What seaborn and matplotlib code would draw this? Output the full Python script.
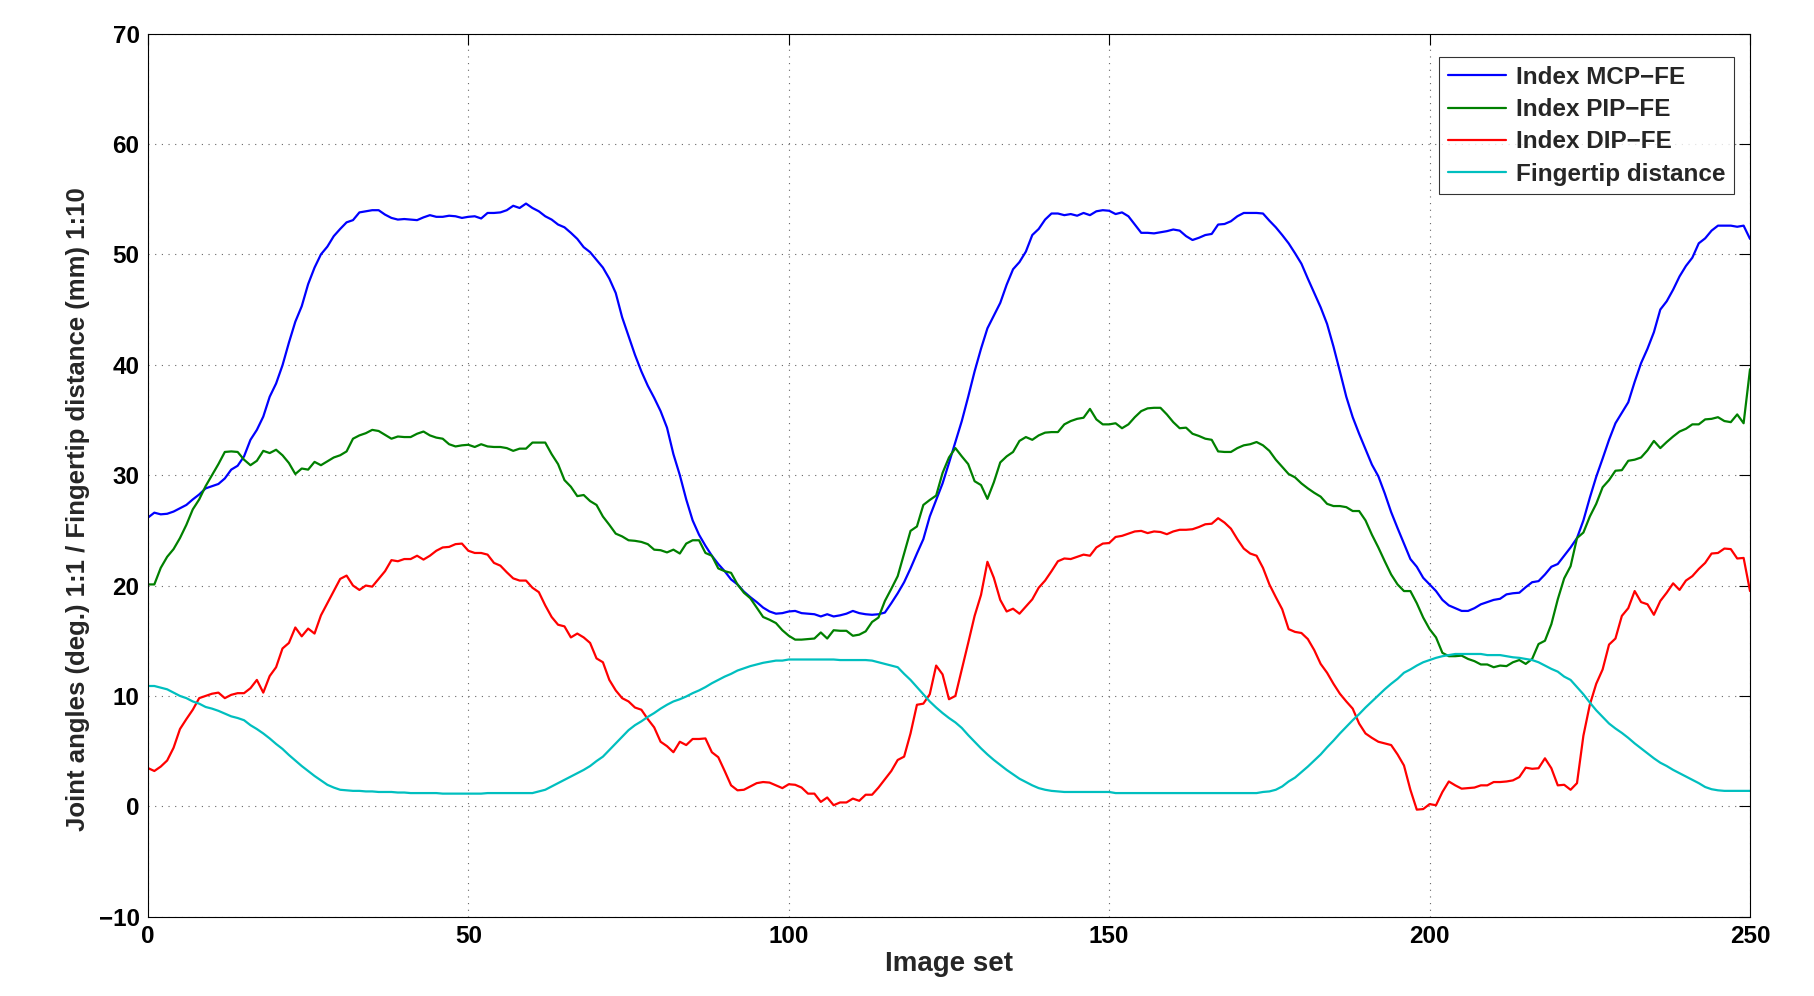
import numpy as np
import pandas as pd
import matplotlib
matplotlib.use("Agg")
import matplotlib.pyplot as plt
import seaborn as sns

# values, one per image set (0..250)
image_set = list(range(251))

mcp_fe = [
    26.15, 26.6, 26.45, 26.5, 26.7, 27.0, 27.3, 27.8, 28.25, 28.8,
    29.0, 29.2, 29.7, 30.5, 30.85, 31.7, 33.2, 34.1, 35.3, 37.1,
    38.3, 39.95, 42.0, 43.9, 45.3, 47.3, 48.8, 50.0, 50.7, 51.65,
    52.3, 52.9, 53.1, 53.8, 53.9, 54.0, 54.0, 53.6, 53.3, 53.15,
    53.2, 53.15, 53.1, 53.35, 53.55, 53.4, 53.4, 53.5, 53.45, 53.3,
    53.4, 53.45, 53.25, 53.75, 53.75, 53.8, 54.0, 54.4, 54.2, 54.6,
    54.2, 53.9, 53.45, 53.15, 52.7, 52.45, 51.95, 51.4, 50.65, 50.2,
    49.5, 48.8, 47.8, 46.5, 44.3, 42.6, 40.9, 39.4, 38.1, 37.0,
    35.8, 34.3, 31.9, 30.0, 27.8, 25.9, 24.6, 23.6, 22.7, 21.95,
    21.3, 20.55, 20.1, 19.45, 18.95, 18.5, 18.0, 17.65, 17.45, 17.5,
    17.65, 17.7, 17.5, 17.45, 17.4, 17.2, 17.4, 17.2, 17.3, 17.45,
    17.7, 17.5, 17.4, 17.35, 17.4, 17.55, 18.4, 19.3, 20.3, 21.55,
    22.9, 24.2, 26.25, 27.75, 29.25, 31.1, 33.0, 34.9, 37.1, 39.4,
    41.45, 43.3, 44.45, 45.6, 47.25, 48.65, 49.3, 50.25, 51.75, 52.3,
    53.15, 53.7, 53.7, 53.55, 53.65, 53.5, 53.75, 53.55, 53.9, 54.0,
    53.95, 53.65, 53.8, 53.45, 52.7, 51.95, 51.95, 51.9, 52.0, 52.1,
    52.25, 52.15, 51.65, 51.3, 51.5, 51.75, 51.85, 52.7, 52.75, 53.0,
    53.45, 53.75, 53.75, 53.75, 53.7, 53.05, 52.45, 51.75, 51.0, 50.1,
    49.15, 47.8, 46.5, 45.2, 43.7, 41.65, 39.4, 37.1, 35.25, 33.75,
    32.35, 30.95, 29.9, 28.35, 26.65, 25.2, 23.8, 22.4, 21.7, 20.7,
    20.1, 19.5, 18.7, 18.2, 17.95, 17.7, 17.7, 17.95, 18.3, 18.5,
    18.7, 18.8, 19.2, 19.3, 19.35, 19.85, 20.3, 20.4, 21.0, 21.7,
    21.95, 22.7, 23.45, 24.3, 25.9, 27.95, 29.85, 31.5, 33.2, 34.7,
    35.65, 36.6, 38.45, 40.15, 41.45, 42.95, 45.0, 45.75, 46.8, 48.0,
    48.95, 49.7, 51.0, 51.45, 52.15, 52.6, 52.6, 52.6, 52.5, 52.6,
    51.4,
]

pip_fe = [
    20.1, 20.1, 21.6, 22.6, 23.3, 24.3, 25.5, 26.9, 27.8, 29.0,
    30.0, 31.0, 32.1, 32.15, 32.1, 31.4, 30.9, 31.3, 32.2, 32.0,
    32.3, 31.8, 31.1, 30.1, 30.6, 30.5, 31.2, 30.9, 31.25, 31.6,
    31.8, 32.15, 33.3, 33.6, 33.8, 34.1, 34.0, 33.65, 33.3, 33.5,
    33.45, 33.45, 33.75, 33.95, 33.6, 33.4, 33.3, 32.8, 32.6, 32.7,
    32.75, 32.55, 32.8, 32.6, 32.55, 32.55, 32.45, 32.2, 32.4, 32.4,
    32.95, 32.95, 32.95, 31.9, 31.0, 29.55, 28.95, 28.1, 28.2, 27.65,
    27.3, 26.25, 25.5, 24.7, 24.45, 24.1, 24.05, 23.95, 23.75, 23.25,
    23.2, 23.0, 23.25, 22.9, 23.8, 24.1, 24.1, 22.95, 22.7, 21.55,
    21.3, 21.15, 20.1, 19.35, 18.85, 18.0, 17.15, 16.9, 16.6, 15.95,
    15.45, 15.1, 15.1, 15.15, 15.2, 15.75, 15.2, 15.95, 15.9, 15.9,
    15.45, 15.55, 15.85, 16.7, 17.1, 18.6, 19.7, 20.85, 22.9, 24.95,
    25.35, 27.3, 27.75, 28.15, 30.2, 31.6, 32.45, 31.7, 31.0, 29.45,
    29.1, 27.85, 29.35, 31.15, 31.7, 32.1, 33.1, 33.45, 33.2, 33.6,
    33.85, 33.9, 33.9, 34.6, 34.9, 35.1, 35.2, 36.0, 35.05, 34.6,
    34.6, 34.7, 34.25, 34.6, 35.25, 35.8, 36.05, 36.1, 36.1, 35.5,
    34.8, 34.25, 34.3, 33.75, 33.55, 33.3, 33.2, 32.15, 32.1, 32.1,
    32.45, 32.7, 32.8, 33.0, 32.7, 32.2, 31.4, 30.75, 30.1, 29.8,
    29.25, 28.8, 28.4, 28.05, 27.4, 27.2, 27.2, 27.1, 26.75, 26.75,
    25.9, 24.6, 23.45, 22.2, 21.0, 20.1, 19.5, 19.5, 18.4, 17.1,
    16.05, 15.3, 13.9, 13.6, 13.6, 13.65, 13.35, 13.15, 12.85, 12.85,
    12.6, 12.75, 12.7, 13.05, 13.25, 12.9, 13.35, 14.7, 15.0, 16.5,
    18.75, 20.65, 21.75, 24.3, 24.8, 26.25, 27.4, 28.9, 29.55, 30.4,
    30.45, 31.3, 31.4, 31.6, 32.25, 33.1, 32.45, 33.0, 33.5, 33.95,
    34.2, 34.6, 34.6, 35.05, 35.1, 35.25, 34.9, 34.8, 35.5, 34.7,
    39.6,
]

dip_fe = [
    3.47, 3.2, 3.6, 4.15, 5.3, 7.0, 7.9, 8.75, 9.8, 10.0,
    10.2, 10.3, 9.8, 10.1, 10.25, 10.25, 10.7, 11.45, 10.3, 11.8,
    12.6, 14.3, 14.8, 16.2, 15.4, 16.1, 15.65, 17.3, 18.4, 19.5,
    20.6, 20.9, 20.0, 19.6, 20.0, 19.9, 20.6, 21.3, 22.3, 22.2,
    22.4, 22.4, 22.7, 22.35, 22.7, 23.15, 23.45, 23.5, 23.75, 23.8,
    23.15, 22.95, 22.95, 22.8, 22.05, 21.8, 21.2, 20.65, 20.45, 20.45,
    19.8, 19.4, 18.2, 17.15, 16.45, 16.3, 15.3, 15.65, 15.3, 14.8,
    13.4, 13.05, 11.45, 10.5, 9.8, 9.5, 8.95, 8.75, 7.9, 7.15,
    5.85, 5.45, 4.9, 5.85, 5.55, 6.1, 6.1, 6.15, 4.9, 4.45,
    3.2, 1.9, 1.45, 1.5, 1.8, 2.1, 2.2, 2.15, 1.9, 1.65,
    2.0, 1.95, 1.7, 1.15, 1.15, 0.4, 0.8, 0.1, 0.35, 0.35,
    0.7, 0.5, 1.05, 1.05, 1.7, 2.45, 3.2, 4.2, 4.5, 6.6,
    9.2, 9.3, 10.15, 12.75, 11.95, 9.7, 10.0, 12.4, 14.8, 17.25,
    19.15, 22.15, 20.7, 18.7, 17.65, 17.9, 17.45, 18.1, 18.75, 19.8,
    20.45, 21.3, 22.2, 22.45, 22.4, 22.6, 22.8, 22.7, 23.45, 23.8,
    23.85, 24.4, 24.5, 24.7, 24.9, 24.95, 24.75, 24.9, 24.85, 24.65,
    24.9, 25.05, 25.05, 25.1, 25.3, 25.55, 25.6, 26.1, 25.7, 25.15,
    24.2, 23.35, 22.9, 22.7, 21.6, 20.1, 18.95, 17.85, 16.05, 15.8,
    15.7, 15.15, 14.15, 12.9, 12.1, 11.1, 10.2, 9.5, 8.85, 7.5,
    6.6, 6.2, 5.85, 5.7, 5.55, 4.7, 3.7, 1.5, -0.3, -0.25,
    0.2, 0.1, 1.3, 2.25, 1.9, 1.6, 1.65, 1.7, 1.9, 1.9,
    2.2, 2.2, 2.25, 2.35, 2.65, 3.5, 3.4, 3.45, 4.35, 3.45,
    1.9, 1.95, 1.5, 2.1, 6.4, 9.2, 11.1, 12.4, 14.65, 15.2,
    17.25, 17.95, 19.5, 18.5, 18.3, 17.35, 18.6, 19.35, 20.2, 19.6,
    20.45, 20.85, 21.5, 22.05, 22.9, 22.95, 23.35, 23.3, 22.45, 22.5,
    19.5,
]

fingertip = [
    10.9, 10.9, 10.75, 10.6, 10.3, 10.0, 9.8, 9.5, 9.3, 9.0,
    8.85, 8.65, 8.4, 8.15, 8.0, 7.8, 7.35, 7.0, 6.6, 6.15,
    5.65, 5.2, 4.65, 4.15, 3.65, 3.2, 2.75, 2.35, 1.95, 1.7,
    1.5, 1.45, 1.4, 1.4, 1.35, 1.35, 1.3, 1.3, 1.3, 1.25,
    1.25, 1.2, 1.2, 1.2, 1.2, 1.2, 1.15, 1.15, 1.15, 1.15,
    1.15, 1.15, 1.15, 1.2, 1.2, 1.2, 1.2, 1.2, 1.2, 1.2,
    1.2, 1.35, 1.5, 1.8, 2.1, 2.4, 2.7, 3.0, 3.3, 3.65,
    4.1, 4.5, 5.1, 5.7, 6.3, 6.9, 7.35, 7.7, 8.1, 8.45,
    8.85, 9.2, 9.5, 9.7, 9.95, 10.25, 10.5, 10.8, 11.15, 11.45,
    11.75, 12.0, 12.3, 12.5, 12.7, 12.85, 13.0, 13.1, 13.2, 13.2,
    13.3, 13.3, 13.3, 13.3, 13.3, 13.3, 13.3, 13.3, 13.25, 13.25,
    13.25, 13.25, 13.25, 13.2, 13.05, 12.9, 12.75, 12.6, 12.0, 11.45,
    10.8, 10.15, 9.5, 8.95, 8.45, 8.0, 7.6, 7.1, 6.45, 5.85,
    5.25, 4.7, 4.2, 3.75, 3.3, 2.9, 2.5, 2.2, 1.9, 1.65,
    1.5, 1.4, 1.35, 1.3, 1.3, 1.3, 1.3, 1.3, 1.3, 1.3,
    1.3, 1.2, 1.2, 1.2, 1.2, 1.2, 1.2, 1.2, 1.2, 1.2,
    1.2, 1.2, 1.2, 1.2, 1.2, 1.2, 1.2, 1.2, 1.2, 1.2,
    1.2, 1.2, 1.2, 1.2, 1.3, 1.35, 1.5, 1.8, 2.25, 2.6,
    3.1, 3.6, 4.15, 4.7, 5.35, 5.95, 6.6, 7.2, 7.8, 8.35,
    8.95, 9.5, 10.05, 10.6, 11.1, 11.55, 12.1, 12.4, 12.75, 13.05,
    13.25, 13.45, 13.6, 13.7, 13.8, 13.8, 13.8, 13.8, 13.8, 13.7,
    13.7, 13.7, 13.6, 13.5, 13.45, 13.35, 13.25, 13.05, 12.75, 12.45,
    12.2, 11.75, 11.45, 10.8, 10.15, 9.4, 8.7, 8.1, 7.5, 7.05,
    6.65, 6.2, 5.7, 5.25, 4.8, 4.35, 3.95, 3.65, 3.3, 3.0,
    2.7, 2.4, 2.1, 1.75, 1.55, 1.45, 1.4, 1.4, 1.4, 1.4,
    1.4,
]

series_names = ["Index MCP\u2212FE", "Index PIP\u2212FE", "Index DIP\u2212FE", "Fingertip distance"]
series_colors = ["#0000ff", "#008000", "#ff0000", "#00bfbf"]

x_ticks = [0, 50, 100, 150, 200, 250]
y_ticks = [-10, 0, 10, 20, 30, 40, 50, 60, 70]

df = pd.concat([
    pd.DataFrame({"Image set": image_set, "value": vals, "series": name})
    for name, vals in zip(series_names, [mcp_fe, pip_fe, dip_fe, fingertip])
], ignore_index=True)

sns.set_theme(style="white")
plt.rcParams["font.family"] = ["Liberation Sans", "DejaVu Sans"]
plt.rcParams["font.weight"] = "bold"

fig = plt.figure(figsize=(18.15, 9.96), dpi=100)
ax = fig.add_axes([0.0815, 0.0796, 0.8827, 0.8867])

sns.lineplot(data=df, x="Image set", y="value", hue="series",
             hue_order=series_names, palette=series_colors,
             linewidth=1.6, ax=ax, sort=False)

ax.set_xlim(0, 250)
ax.set_ylim(-10, 70)
ax.set_xticks(x_ticks)
ax.set_yticks(y_ticks)
ax.set_yticklabels([str(t).replace("-", "\u2212") for t in y_ticks])
ax.grid(True, linestyle=(0, (1, 5)), color="#666666", linewidth=0.8)
ax.tick_params(direction="in", length=8, width=0.8, top=True, right=True,
               labelsize=17.5, pad=6, colors="black")
for lab in ax.get_xticklabels() + ax.get_yticklabels():
    lab.set_fontweight("bold")
for sp in ax.spines.values():
    sp.set_color("black")
    sp.set_linewidth(0.8)

ax.set_xlabel("Image set", fontsize=20, fontweight="bold", labelpad=2)
ax.set_ylabel("Joint angles (deg.) 1:1 / Fingertip distance (mm) 1:10",
              fontsize=18.5, fontweight="bold")
# label sits a little below the axes centre in the original
ax.yaxis.set_label_coords(-0.036, 0.461)

leg = ax.legend(loc="upper right", bbox_to_anchor=(0.99, 0.973),
                frameon=True, fancybox=False, handlelength=2.4,
                borderpad=0.35, labelspacing=0.38, handletextpad=0.4,
                borderaxespad=0.0,
                prop={"weight": "bold", "size": 17.5})
leg.get_frame().set_edgecolor("black")
leg.get_frame().set_linewidth(0.8)

fig.savefig("out.png", dpi=100, facecolor="white")
